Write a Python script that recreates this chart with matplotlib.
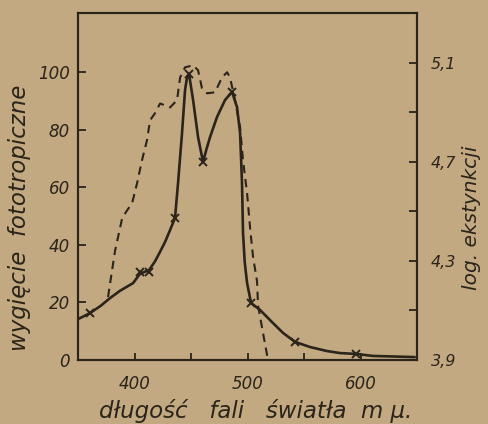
import matplotlib
matplotlib.use("Agg")
import matplotlib.pyplot as plt

# Solid curve: phototropic bending (left axis)
bend_wl = [350, 360.6, 370, 378.3, 387, 398.7, 404.9, 412.8, 418, 422.6, 427, 431.4, 435.8,
           438.5, 442, 444.7, 446.5, 448.2, 451.8, 456.2, 460.6, 463.5, 466.8, 473, 480.1,
           486.3, 490.7, 493.4, 495.1, 496, 497.5, 499.6, 503.1, 511, 522.6, 531.4, 542,
           555.3, 570.4, 581.9, 596, 611, 630, 648]
bend_val = [14.2, 16.3, 18.8, 21.5, 24.0, 26.7, 30.0, 31.2, 34.2, 37.6, 41.0, 45.1, 49.3,
            61.5, 78.8, 93.8, 98.3, 99.3, 90.3, 77.4, 68.8, 73.0, 77.4, 84.4, 90.3,
            93.1, 87.8, 78.8, 61.5, 44.1, 34.0, 26.7, 19.8, 17.4, 12.8, 9.4, 6.3,
            4.5, 3.1, 2.4, 2.1, 1.4, 1.2, 1.0]
# measured points (x markers)
mark_wl = [360.6, 404.9, 412.8, 435.8, 448.2, 460.6, 486.3, 503.1, 542, 596]
mark_val = [16.3, 30.6, 30.6, 49.3, 99.3, 68.8, 93.1, 19.8, 6.3, 2.1]

# Dashed curve: log extinction (right axis)
ext_wl = [376.5, 382.7, 389, 393.4, 397.8, 402.2, 406.6, 411, 413.7, 418, 422.6, 427,
          431.4, 437.6, 440.3, 444.7, 451.8, 456.2, 459.7, 464.1, 471.2, 477.4, 481.9,
          484.5, 488.9, 493.4, 496, 499.6, 502.2, 504.9, 508.4, 509.3, 513.7, 518.1]
ext_val = [4.154, 4.34, 4.472, 4.504, 4.532, 4.613, 4.706, 4.787, 4.867, 4.895, 4.935, 4.927,
           4.919, 4.948, 5.04, 5.081, 5.089, 5.069, 4.996, 4.976, 4.98, 5.04, 5.061,
           5.04, 4.948, 4.839, 4.706, 4.573, 4.436, 4.315, 4.218, 4.12, 4.009, 3.9]

left_ticks = [0, 20, 40, 60, 80, 100]
left_labels = ["0", "20", "40", "60", "80", "100"]
right_ticks = [3.9, 4.1, 4.3, 4.5, 4.7, 4.9, 5.1]
right_labels = ["3,9", "", "4,3", "", "4,7", "", "5,1"]
x_ticks = [400, 450, 500, 550, 600]
x_labels = ["400", "", "500", "", "600"]

bg = "#c3a982"
ink = "#2a241a"

plt.rcParams['font.family'] = ['DejaVu Sans']
fig = plt.figure(figsize=(4.88, 4.24), dpi=100, facecolor=bg)
ax = fig.add_axes([0.160, 0.151, 0.6945, 0.8183])
ax.set_facecolor(bg)
ax2 = ax.twinx()

ax.plot(bend_wl, bend_val, color=ink, lw=1.9, solid_capstyle='round', solid_joinstyle='round')
ax.plot(mark_wl, mark_val, linestyle='none', marker='x', color=ink, ms=6, mew=1.4)
ax2.plot(ext_wl, ext_val, color=ink, lw=1.5, linestyle=(0, (4, 2.8)))

ax.set_xlim(350, 650)
ax.set_ylim(0, 120.5)
ax2.set_ylim(3.9, 5.3)

for a in (ax, ax2):
    for s in a.spines.values():
        s.set_color(ink)
        s.set_linewidth(1.5)

ax.set_xticks(x_ticks)
ax.set_xticklabels(x_labels, fontsize=12, style='italic', color=ink)
ax.set_yticks(left_ticks)
ax.set_yticklabels(left_labels, fontsize=12, style='italic', color=ink)
ax2.set_yticks(right_ticks)
ax2.set_yticklabels(right_labels, fontsize=11.5, style='italic', color=ink)

ax.tick_params(axis='x', direction='in', length=5, width=1.3, color=ink, pad=11)
ax.tick_params(axis='y', direction='in', length=6, width=1.3, color=ink, pad=6)
ax2.tick_params(axis='y', direction='in', length=6, width=1.3, color=ink, pad=10)

ax.set_xlabel("długość   fali   światła  m μ.", fontsize=16.5, style='italic', color=ink)
ax.xaxis.label.set_va('center')
ax.xaxis.set_label_coords(0.525, -0.147)

ax.set_ylabel("wygięcie  fototropiczne", fontsize=16.5, style='italic', color=ink)
ax.yaxis.label.set_va('center')
ax.yaxis.set_label_coords(-0.172, 0.41)

ax2.set_ylabel("log. ekstynkcji", fontsize=14.5, style='italic', color=ink)
ax2.yaxis.label.set_va('center')
ax2.yaxis.set_label_coords(1.162, 0.41)

fig.savefig("out.png", dpi=100, facecolor=bg)
